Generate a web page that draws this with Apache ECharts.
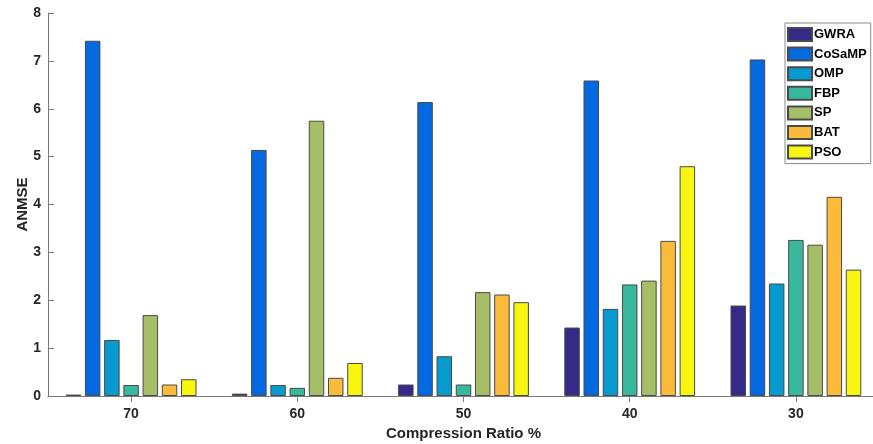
<!DOCTYPE html>
<html>
<head>
<meta charset="utf-8">
<script src="https://cdn.jsdelivr.net/npm/echarts@6/dist/echarts.min.js"></script>
<style>
  html, body { margin: 0; padding: 0; background: #fff; }
  #chart { width: 873px; height: 444px; }
</style>
</head>
<body>
<div id="chart"></div>
<script>
// Compression ratios on the x axis
const categories = ['70', '60', '50', '40', '30'];

// ANMSE per reconstruction algorithm
const GWRA   = [0.03, 0.05, 0.24, 1.43, 1.89];
const CoSaMP = [7.42, 5.14, 6.14, 6.59, 7.03];
const OMP    = [1.17, 0.23, 0.83, 1.82, 2.35];
const FBP    = [0.23, 0.17, 0.24, 2.33, 3.26];
const SP     = [1.69, 5.75, 2.17, 2.41, 3.16];
const BAT    = [0.24, 0.38, 2.12, 3.24, 4.16];
const PSO    = [0.35, 0.69, 1.96, 4.80, 2.64];

const seriesNames = ['GWRA', 'CoSaMP', 'OMP', 'FBP', 'SP', 'BAT', 'PSO'];
const seriesData = [GWRA, CoSaMP, OMP, FBP, SP, BAT, PSO];
const colors = ['#352A87', '#0369E0', '#069ACF', '#38B89C', '#A6BE68', '#FCBA3B', '#F8F511'];

const yTicks = [0, 1, 2, 3, 4, 5, 6, 7, 8];

const FONT = '"Liberation Sans", Arial, sans-serif';
const axisGray = '#7a7a7a';

const chart = echarts.init(document.getElementById('chart'));

const series = seriesNames.map((name, i) => ({
  name: name,
  type: 'bar',
  data: seriesData[i],
  barWidth: 15.5,
  barGap: '24%',
  itemStyle: { color: colors[i], borderColor: '#4a4a4a', borderWidth: 1 }
}));

chart.setOption({
  backgroundColor: '#ffffff',
  animation: false,
  color: colors,
  grid: { left: 48, right: -6, top: 13, bottom: 48, outerBoundsMode: 'none', containLabel: false },
  legend: {
    orient: 'vertical',
    left: 785,
    top: 23,
    icon: 'rect',
    itemWidth: 24,
    itemHeight: 13,
    itemGap: 4.6,
    padding: [4, 4, 4, 2],
    backgroundColor: '#ffffff',
    borderColor: '#8a8a8a',
    borderWidth: 1,
    textStyle: { fontFamily: FONT, fontWeight: 'bold', fontSize: 13, color: '#000', padding: [0, 0, 0, -3] },
    data: seriesNames
  },
  xAxis: [
    {
      type: 'category',
      data: categories,
      name: 'Compression Ratio %',
      nameLocation: 'middle',
      nameGap: 30,
      nameMoveOverlap: false,
      nameTextStyle: { fontFamily: FONT, fontWeight: 'bold', fontSize: 15, color: '#262626' },
      axisLine: { lineStyle: { color: axisGray, width: 1 } },
      axisTick: { show: true, inside: true, alignWithLabel: true, length: 6, lineStyle: { color: axisGray } },
      axisLabel: { fontFamily: FONT, fontWeight: 'bold', fontSize: 14, color: '#262626', margin: 11 }
    },
    {
      type: 'category',
      data: categories,
      position: 'top',
      axisLine: { show: true, lineStyle: { color: axisGray, width: 1 } },
      axisTick: { show: true, inside: true, alignWithLabel: true, length: 6, lineStyle: { color: axisGray } },
      axisLabel: { show: false }
    }
  ],
  yAxis: [
    {
      type: 'value',
      min: yTicks[0],
      max: yTicks[yTicks.length - 1],
      interval: 1,
      name: 'ANMSE',
      nameLocation: 'middle',
      nameGap: 18,
      nameMoveOverlap: false,
      nameTextStyle: { fontFamily: FONT, fontWeight: 'bold', fontSize: 15, color: '#262626' },
      axisLine: { show: true, lineStyle: { color: axisGray, width: 1 } },
      axisTick: { show: true, inside: true, length: 6, lineStyle: { color: axisGray } },
      axisLabel: { fontFamily: FONT, fontWeight: 'bold', fontSize: 14, color: '#262626', margin: 7 },
      splitLine: { show: false }
    },
    {
      type: 'value',
      min: yTicks[0],
      max: yTicks[yTicks.length - 1],
      interval: 1,
      position: 'right',
      axisLine: { show: true, lineStyle: { color: axisGray, width: 1 } },
      axisTick: { show: true, inside: true, length: 6, lineStyle: { color: axisGray } },
      axisLabel: { show: false },
      splitLine: { show: false }
    }
  ],
  series: series
});
</script>
</body>
</html>
